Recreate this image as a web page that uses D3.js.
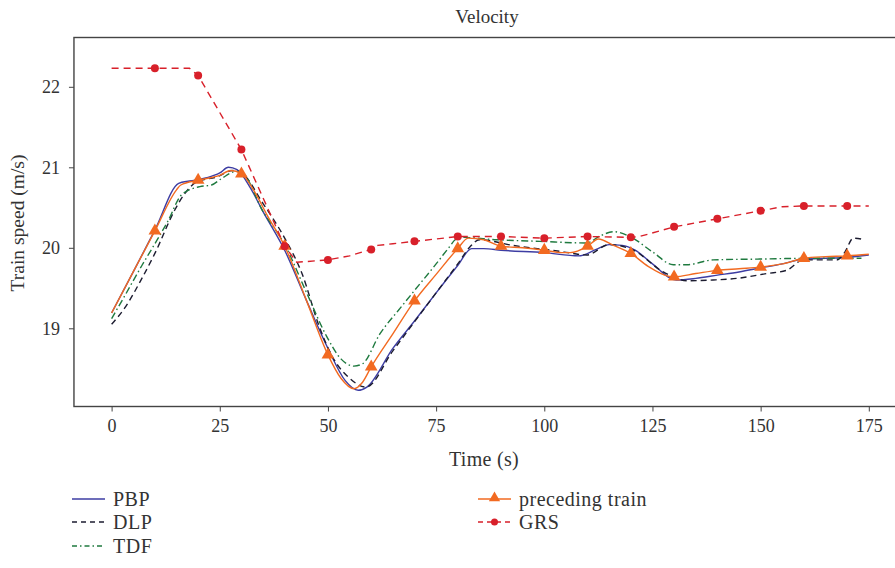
<!DOCTYPE html>
<html>
<head>
<meta charset="utf-8">
<script src="https://d3js.org/d3.v7.min.js"></script>
<style>
  body { margin: 0; background: #fff; }
  svg { font-family: 'Liberation Serif', 'DejaVu Serif', serif; }
</style>
</head>
<body>
<svg id="svg" width="895" height="568"></svg>
<script>
// PBP
const tPBP = [0,5,10,15.5,18,22,25,27,29,32,35,40,45,50,54,57,59,65,70,75,80,83.2,86,90,100,108,112,115,118,121,125,130.5,135,140,145,150,155,160,165,170,175];
const vPBP = [19.19,19.7,20.22,20.8,20.83,20.87,20.93,21.0,20.97,20.75,20.45,19.97,19.35,18.75,18.35,18.23,18.27,18.75,19.09,19.44,19.78,19.99,19.99,19.97,19.94,19.9,19.98,20.04,20.03,19.97,19.8,19.6,19.62,19.66,19.7,19.75,19.8,19.86,19.87,19.88,19.91];
// DLP
const tDLP = [0,3,7,10,14.6,17,19.7,24.3,28,30,35,40,44,48,51,55,58.8,65,70,75,80,82.8,85,92.8,104.4,109.8,115,120.6,127.5,133,139,144.5,151.4,156,159.9,167.6,169.5,171.4,174];
const vDLP = [19.05,19.25,19.62,19.93,20.47,20.68,20.82,20.88,20.96,20.93,20.55,20.12,19.68,19.02,18.65,18.38,18.27,18.72,19.08,19.44,19.8,20.01,20.1,20.03,19.95,19.91,20.04,19.97,19.7,19.59,19.6,19.62,19.68,19.72,19.85,19.85,19.95,20.12,20.1];
// TDF
const tTDF = [0,3,7,10,13,16.2,20.4,23.1,25.4,28.9,30,35,40,45,49.7,53,56,58,62,66.7,70,75,78.2,79.4,81,89,99,109.8,113,116,119.8,125,129.8,133,139,149.8,161.4,173.3];
const vTDF = [19.12,19.4,19.78,20.05,20.33,20.66,20.76,20.78,20.86,20.95,20.94,20.45,20.04,19.45,18.9,18.62,18.53,18.56,18.93,19.25,19.47,19.8,20.02,20.1,20.13,20.1,20.08,20.06,20.15,20.2,20.14,19.95,19.79,19.79,19.85,19.86,19.87,19.87];
// preceding train
const tPre = [0,5,10,15,16,20,25,27.5,30,33,36,40,45,50,53,56,58,60,65,70,75,80,82.4,86,90,95,100,104,106,110,112.5,116,120,124,130,135,140,145,150,155,160,165,170,175];
const vPre = [19.19,19.7,20.21,20.72,20.78,20.84,20.9,20.96,20.92,20.7,20.4,20.02,19.35,18.67,18.38,18.25,18.33,18.52,18.93,19.34,19.67,19.99,20.12,20.1,20.02,20.0,19.97,19.94,19.94,20.02,20.11,20.03,19.93,19.77,19.64,19.68,19.72,19.74,19.76,19.8,19.87,19.89,19.9,19.92];
// GRS
const tGRS = [0,10,18,20,30,40,42.8,50,55,60,61.5,65,70,75,80,90,100,110,120,122,130,140,150,155,160,170,175];
const vGRS = [22.23,22.23,22.23,22.14,21.22,20.02,19.82,19.85,19.9,19.98,20.03,20.05,20.08,20.11,20.14,20.14,20.12,20.14,20.13,20.14,20.26,20.36,20.46,20.51,20.52,20.52,20.52];

const xTicks = [0,25,50,75,100,125,150,175];
const yTicks = [19,20,21,22];

const svg = d3.select("#svg");
const x = d3.scaleLinear().domain([0,175]).range([111.6,868.8]);
const y = d3.scaleLinear().domain([19,21]).range([328.3,167.3]);
const fLeft = x(-8.7), fTop = 37.5, fBottom = 406.5, fRight = 900;

// frame
svg.append("rect")
  .attr("x", fLeft).attr("y", fTop)
  .attr("width", fRight - fLeft).attr("height", fBottom - fTop)
  .attr("fill", "none").attr("stroke", "#444").attr("stroke-width", 1.4);

const xAxis = svg.append("g").attr("transform", `translate(0,${fBottom})`)
  .call(d3.axisBottom(x).tickValues(xTicks).tickFormat(d3.format("d")).tickSize(5).tickPadding(8));
const yAxis = svg.append("g").attr("transform", `translate(${fLeft},0)`)
  .call(d3.axisLeft(y).tickValues(yTicks).tickFormat(d3.format("d")).tickSize(5).tickPadding(9));
[xAxis, yAxis].forEach(a => {
  a.select(".domain").remove();
  a.selectAll("line").attr("stroke", "#444");
  a.selectAll("text").attr("fill", "#333").style("font-size", "18px")
    .style("font-family", "'Liberation Serif', serif");
});

svg.append("text").attr("x", 487).attr("y", 23).attr("text-anchor", "middle")
  .attr("fill", "#333").style("font-size", "19px").text("Velocity");
svg.append("text").attr("x", 484).attr("y", 466).attr("text-anchor", "middle")
  .attr("fill", "#333").style("font-size", "20px").style("letter-spacing", "0.3px").text("Time (s)");
svg.append("text").attr("transform", "translate(24,223) rotate(-90)")
  .attr("text-anchor", "middle").attr("fill", "#333").style("font-size", "19.5px")
  .text("Train speed (m/s)");

const series = [
  {name: "PBP", t: tPBP, v: vPBP, color: "#3d3da3", dash: null, curve: d3.curveMonotoneX},
  {name: "DLP", t: tDLP, v: vDLP, color: "#1c1c30", dash: "6,4", curve: d3.curveMonotoneX},
  {name: "TDF", t: tTDF, v: vTDF, color: "#1f7a3f", dash: "7,3,1.5,3", curve: d3.curveMonotoneX},
  {name: "preceding train", t: tPre, v: vPre, color: "#f26a21", dash: null, curve: d3.curveMonotoneX, marker: "tri"},
  {name: "GRS", t: tGRS, v: vGRS, color: "#d8202a", dash: "7,5", curve: d3.curveLinear, marker: "dot"}
];

const plot = svg.append("g");
series.forEach(s => {
  const pts = s.t.map((t, i) => [t, s.v[i]]);
  const line = d3.line().x(d => x(d[0])).y(d => y(d[1])).curve(s.curve);
  plot.append("path").datum(pts)
    .attr("d", line).attr("fill", "none")
    .attr("stroke", s.color).attr("stroke-width", 1.4)
    .attr("stroke-dasharray", s.dash);
  const mk = pts.filter(d => d[0] > 0 && d[0] <= 170 && d[0] % 10 === 0);
  if (s.marker === "tri") {
    plot.selectAll(null).data(mk).join("path")
      .attr("transform", d => `translate(${x(d[0])},${y(d[1])})`)
      .attr("d", d3.symbol(d3.symbolTriangle, 70)())
      .attr("fill", s.color);
  } else if (s.marker === "dot") {
    plot.selectAll(null).data(mk).join("circle")
      .attr("cx", d => x(d[0])).attr("cy", d => y(d[1])).attr("r", 4)
      .attr("fill", s.color);
  }
});

// legend
const legPos = [[72,499],[72,522],[72,546],[478,499],[478,522]];
series.forEach((s, i) => {
  const [lx, ly] = legPos[i];
  const g = svg.append("g").attr("transform", `translate(${lx},${ly})`);
  g.append("line").attr("x1", 0).attr("x2", 33).attr("y1", 0).attr("y2", 0)
    .attr("stroke", s.color).attr("stroke-width", 1.4)
    .attr("stroke-dasharray", s.name === "GRS" ? "5,4" : (s.name === "TDF" ? "5,3,1.5,3" : (s.name === "DLP" ? "5,4" : null)));
  if (s.marker === "tri") {
    g.append("path").attr("transform", "translate(16.5,-1)")
      .attr("d", d3.symbol(d3.symbolTriangle, 55)()).attr("fill", s.color);
  } else if (s.marker === "dot") {
    g.append("circle").attr("cx", 16.5).attr("cy", 0).attr("r", 3.5).attr("fill", s.color);
  }
  g.append("text").attr("x", 41).attr("y", 6.5).attr("fill", "#333")
    .style("font-size", "20px").style("letter-spacing", "0.5px").text(s.name);
});
</script>
</body>
</html>
